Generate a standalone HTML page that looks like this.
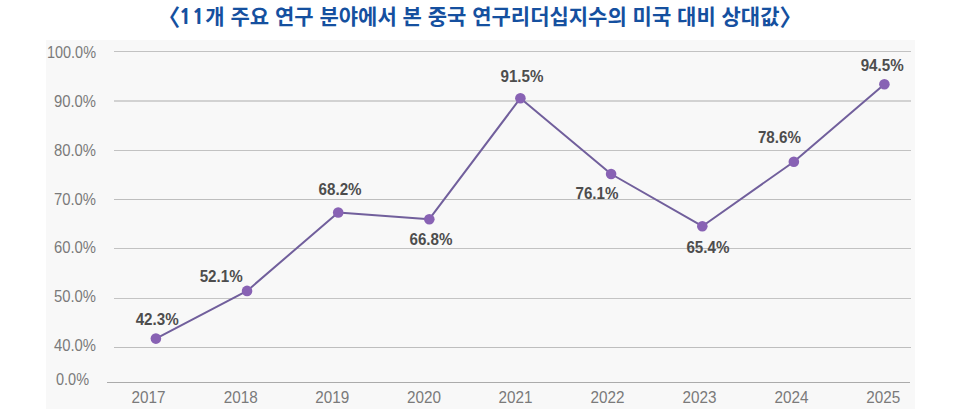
<!DOCTYPE html>
<html lang="ko">
<head>
<meta charset="utf-8">
<style>
  html, body { margin: 0; padding: 0; background: #ffffff; }
  body { width: 961px; height: 417px; position: relative; overflow: hidden; }
  .title {
    position: absolute; left: 157.2px; top: 3px; text-align: left;
    font-family: "Liberation Sans", "Noto Sans CJK KR", sans-serif;
    font-weight: 700; font-size: 21px; line-height: 28px; color: #15509f;
    white-space: nowrap;
  }
  .title .br { font-size: 23px; line-height: 20px; position: relative; top: 1.5px; }
  .title .num { font-family: "NanumGothic", "Liberation Sans", sans-serif; font-weight: 800; letter-spacing: 0.5px; margin-left: -1.3px; }
  svg { position: absolute; left: 0; top: 0; }
  .ylab { font-family: "Liberation Sans", sans-serif; font-size: 16px; fill: #7a7a7a; }
  .xlab { font-family: "Liberation Sans", sans-serif; font-size: 16.5px; fill: #7a7a7a; }
  .dlab { font-family: "Liberation Sans", sans-serif; font-size: 15.7px; font-weight: 700; fill: #4d4d4d; }
</style>
</head>
<body>
<div class="title"><span class="br">〈</span><span class="num">11</span>개 주요 연구 분야에서 본 중국 연구리더십지수의 미국 대비 상대값<span class="br">〉</span></div>
<svg width="961" height="417" viewBox="0 0 961 417">
  <rect x="46" y="40" width="869" height="369" fill="#f8f8f8"/>
  <g shape-rendering="crispEdges">
    <rect x="114" y="51" width="797" height="1" fill="#c2c2c2"/>
    <rect x="114" y="100" width="797" height="2" fill="#d2d2d2"/>
    <rect x="114" y="150" width="797" height="1" fill="#c2c2c2"/>
    <rect x="114" y="199" width="797" height="1" fill="#bebebe"/>
    <rect x="114" y="248" width="797" height="1" fill="#c2c2c2"/>
    <rect x="114" y="298" width="797" height="1" fill="#c4c4c4"/>
    <rect x="114" y="347" width="797" height="1" fill="#bebebe"/>
    <rect x="107" y="382" width="803" height="1" fill="#ababab"/>
  </g>
  <g class="ylab" text-anchor="end">
    <text x="96" y="57.8" textLength="49" lengthAdjust="spacingAndGlyphs">100.0%</text>
    <text x="96" y="107.0" textLength="42" lengthAdjust="spacingAndGlyphs">90.0%</text>
    <text x="96" y="155.9" textLength="42" lengthAdjust="spacingAndGlyphs">80.0%</text>
    <text x="96" y="205.0" textLength="42" lengthAdjust="spacingAndGlyphs">70.0%</text>
    <text x="96" y="253.2" textLength="42" lengthAdjust="spacingAndGlyphs">60.0%</text>
    <text x="96" y="302.0" textLength="42" lengthAdjust="spacingAndGlyphs">50.0%</text>
    <text x="96" y="351.2" textLength="42" lengthAdjust="spacingAndGlyphs">40.0%</text>
    <text x="89" y="384.9" textLength="33" lengthAdjust="spacingAndGlyphs">0.0%</text>
  </g>
  <g class="xlab" text-anchor="middle">
    <text x="148.5" y="402.8" textLength="34" lengthAdjust="spacingAndGlyphs">2017</text>
    <text x="240.7" y="402.8" textLength="34" lengthAdjust="spacingAndGlyphs">2018</text>
    <text x="332.3" y="402.8" textLength="34" lengthAdjust="spacingAndGlyphs">2019</text>
    <text x="424.1" y="402.8" textLength="34" lengthAdjust="spacingAndGlyphs">2020</text>
    <text x="515.6" y="402.8" textLength="34" lengthAdjust="spacingAndGlyphs">2021</text>
    <text x="607.5" y="402.8" textLength="34" lengthAdjust="spacingAndGlyphs">2022</text>
    <text x="699.6" y="402.8" textLength="34" lengthAdjust="spacingAndGlyphs">2023</text>
    <text x="791.4" y="402.8" textLength="34" lengthAdjust="spacingAndGlyphs">2024</text>
    <text x="883.2" y="402.8" textLength="34" lengthAdjust="spacingAndGlyphs">2025</text>
  </g>
  <polyline fill="none" stroke="#715f9c" stroke-width="2" stroke-linejoin="round"
    points="155.9,338.6 247.05,290.9 338.2,212.5 429.3,219.2 520.4,98.2 611.1,174.0 702.3,226.2 793.85,161.7 884.4,84.2"/>
  <g fill="#8862b4">
    <circle cx="155.9" cy="338.6" r="5.3"/>
    <circle cx="247.05" cy="290.9" r="5.3"/>
    <circle cx="338.2" cy="212.5" r="5.3"/>
    <circle cx="429.3" cy="219.2" r="5.3"/>
    <circle cx="520.4" cy="98.2" r="5.3"/>
    <circle cx="611.1" cy="174.0" r="5.3"/>
    <circle cx="702.3" cy="226.2" r="5.3"/>
    <circle cx="793.85" cy="161.7" r="5.3"/>
    <circle cx="884.4" cy="84.2" r="5.3"/>
  </g>
  <g class="dlab" text-anchor="middle">
    <text x="157.2" y="324.97" textLength="43" lengthAdjust="spacingAndGlyphs">42.3%</text>
    <text x="221.2" y="282.2" textLength="43" lengthAdjust="spacingAndGlyphs">52.1%</text>
    <text x="340.1" y="194.8" textLength="43" lengthAdjust="spacingAndGlyphs">68.2%</text>
    <text x="431" y="245.0" textLength="43" lengthAdjust="spacingAndGlyphs">66.8%</text>
    <text x="522" y="82.2" textLength="43" lengthAdjust="spacingAndGlyphs">91.5%</text>
    <text x="597" y="198.7" textLength="43" lengthAdjust="spacingAndGlyphs">76.1%</text>
    <text x="707.9" y="253.1" textLength="43" lengthAdjust="spacingAndGlyphs">65.4%</text>
    <text x="779.4" y="143.0" textLength="43" lengthAdjust="spacingAndGlyphs">78.6%</text>
    <text x="882.2" y="70.5" textLength="43" lengthAdjust="spacingAndGlyphs">94.5%</text>
  </g>
</svg>
</body>
</html>
